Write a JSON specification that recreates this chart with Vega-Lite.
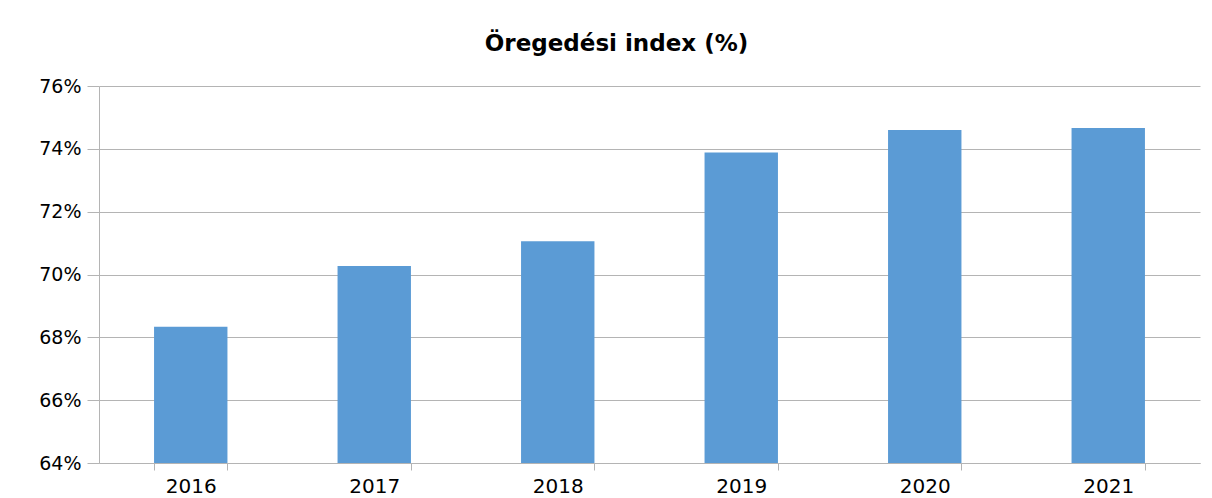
{
  "$schema": "https://vega.github.io/schema/vega-lite/v6.json",
  "autosize": "none",
  "width": 1101,
  "height": 377,
  "padding": {"left": 99, "top": 86, "right": 12, "bottom": 35},
  "background": "white",
  "title": {
    "text": "Öregedési index (%)",
    "font": "DejaVu Sans",
    "fontSize": 23,
    "fontWeight": "bold",
    "color": "#000000",
    "anchor": "middle",
    "frame": "group",
    "dx": -33,
    "offset": 21
  },
  "data": {
    "values": [
      {"year": "2016", "value": 0.6834},
      {"year": "2017", "value": 0.7027},
      {"year": "2018", "value": 0.7106},
      {"year": "2019", "value": 0.7388},
      {"year": "2020", "value": 0.7460},
      {"year": "2021", "value": 0.7466}
    ]
  },
  "mark": {"type": "bar", "color": "#5B9BD5", "clip": true},
  "encoding": {
    "x": {
      "field": "year",
      "type": "nominal",
      "title": null,
      "scale": {"paddingInner": 0.6, "paddingOuter": 0.3},
      "axis": {
        "labelAngle": 0,
        "labelFont": "DejaVu Sans",
        "labelFontSize": 20,
        "labelColor": "#000000",
        "labelPadding": 6,
        "tickBand": "extent",
        "tickSize": 7,
        "tickColor": "#b4b4b4",
        "domainColor": "#b4b4b4",
        "grid": false
      }
    },
    "y": {
      "field": "value",
      "type": "quantitative",
      "title": null,
      "scale": {"domain": [0.64, 0.76], "zero": false, "nice": false},
      "axis": {
        "values": [0.64, 0.66, 0.68, 0.70, 0.72, 0.74, 0.76],
        "format": ".0%",
        "labelFont": "DejaVu Sans",
        "labelFontSize": 19,
        "labelColor": "#000000",
        "labelPadding": 6,
        "tickSize": 12,
        "tickColor": "#b4b4b4",
        "domainColor": "#b4b4b4",
        "gridColor": "#b4b4b4",
        "grid": true
      }
    }
  },
  "config": {"view": {"stroke": null}}
}
